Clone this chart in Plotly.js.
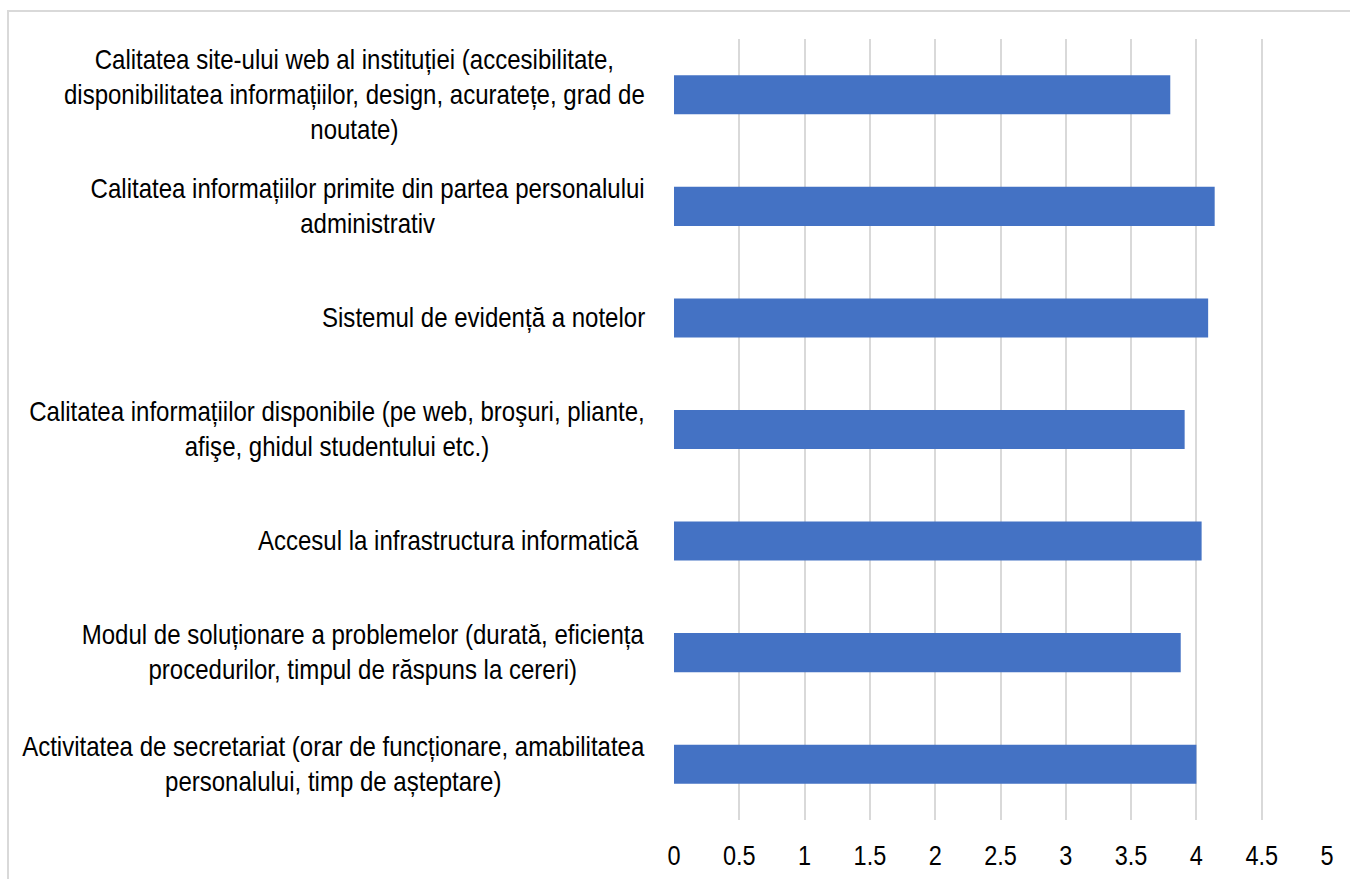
<!DOCTYPE html>
<html>
<head>
<meta charset="utf-8">
<script src="https://cdn.plot.ly/plotly-3.0.1.min.js"></script>
<style>
  html, body { margin: 0; padding: 0; background: #ffffff; overflow: hidden; }
  #frame { position: absolute; left: 7px; top: 10px; width: 1400px; height: 900px;
           border-left: 2px solid #d9d9d9; border-top: 2px solid #d9d9d9; pointer-events: none; z-index: 2; }
  #chart { position: absolute; left: 0; top: 0; width: 1350px; height: 879px; }
</style>
</head>
<body>
<div id="chart"></div>
<div id="frame"></div>
<script>
const categories = [
  "Calitatea site-ului web al instituției (accesibilitate,<br>disponibilitatea informațiilor, design, acuratețe, grad de<br>noutate)",
  "Calitatea informațiilor primite din partea personalului<br>administrativ",
  "Sistemul de evidență a notelor",
  "Calitatea informațiilor disponibile (pe web, broşuri, pliante,<br>afişe, ghidul studentului etc.)",
  "Accesul la infrastructura informatică ",
  "Modul de soluționare a problemelor (durată, eficiența<br>procedurilor, timpul de răspuns la cereri)",
  "Activitatea de secretariat (orar de funcționare, amabilitatea<br>personalului, timp de așteptare)"
];
const scores = [3.80, 4.14, 4.09, 3.91, 4.04, 3.88, 4.00];
const tickValues = [0, 0.5, 1, 1.5, 2, 2.5, 3, 3.5, 4, 4.5, 5];
const tickLabels = ["0", "0.5", "1", "1.5", "2", "2.5", "3", "3.5", "4", "4.5", "5"];

const FONT = '"Liberation Sans Narrow", "Arial Narrow", "Liberation Sans", Arial, sans-serif';

const trace = {
  type: 'bar',
  orientation: 'h',
  x: scores,
  y: categories,
  marker: { color: '#4472C4', line: { width: 0 } },
  hoverinfo: 'x+y'
};

const annotations = categories.map(c => ({
  xref: 'paper', yref: 'y',
  x: 0, y: c,
  xanchor: 'right', yanchor: 'middle',
  xshift: -27,
  text: c,
  align: 'center',
  showarrow: false,
  font: { family: FONT, size: 27, color: '#000000' }
}));

const layout = {
  width: 1350,
  height: 879,
  margin: { l: 674, r: 23, t: 39, b: 59, pad: 0 },
  paper_bgcolor: '#ffffff',
  plot_bgcolor: '#ffffff',
  showlegend: false,
  bargap: 0.65,
  font: { family: FONT, size: 27, color: '#000000' },
  xaxis: {
    range: [0, 5],
    tickvals: tickValues,
    ticktext: tickLabels,
    showgrid: true,
    gridcolor: '#d9d9d9',
    gridwidth: 2,
    zeroline: false,
    showline: false,
    ticks: '',
    ticklabelstandoff: 17,
    tickfont: { family: FONT, size: 27, color: '#000000' }
  },
  yaxis: {
    type: 'category',
    autorange: 'reversed',
    showticklabels: false,
    showgrid: false,
    zeroline: false,
    showline: false,
    ticks: ''
  },
  annotations: annotations
};

// Narrow the text horizontally to match the condensed lettering of the original
function condense() {
  const gd = document.getElementById('chart');
  gd.querySelectorAll('.annotation-text').forEach(t => {
    const bb = t.getBBox();
    const R = bb.x + bb.width;
    const prev = t.getAttribute('transform') || '';
    t.setAttribute('transform', prev + ' translate(' + R + ',0) scale(0.89,1) translate(' + (-R) + ',0)');
  });
  gd.querySelectorAll('.xtick text').forEach(t => {
    const bb = t.getBBox();
    const C = bb.x + bb.width / 2;
    const prev = t.getAttribute('transform') || '';
    t.setAttribute('transform', prev + ' translate(' + C + ',0) scale(0.87,1) translate(' + (-C) + ',0)');
  });
}

Plotly.newPlot('chart', [trace], layout, { displayModeBar: false, staticPlot: true }).then(condense);
</script>
</body>
</html>
